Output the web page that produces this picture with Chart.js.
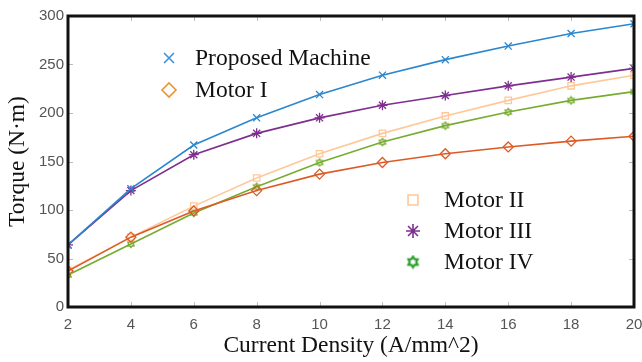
<!DOCTYPE html>
<html>
<head>
<meta charset="utf-8">
<script src="https://cdn.jsdelivr.net/npm/chart.js@4"></script>
<style>
  html, body { margin: 0; padding: 0; background: #fff; }
  #wrap { width: 642px; height: 362px; position: relative; }
</style>
</head>
<body>
<div id="wrap"><canvas id="torqueChart"></canvas></div>
<script>
// current density values (A/mm^2)
const density = [2, 4, 6, 8, 10, 12, 14, 16, 18, 20];

// torque (N.m)
const proposed = [64, 122, 167, 195, 219, 239, 255, 269, 282, 292];
const motorI   = [37, 72, 99, 120, 137, 149, 158, 165, 171, 176];
const motorII  = [38, 72, 104, 133, 158, 179, 197, 213, 228, 239];
const motorIII = [64, 120, 157, 179, 195, 208, 218, 228, 237, 246];
const motorIV  = [33, 65, 97, 124, 149, 170, 187, 201, 213, 222];

const xTicks = [2, 4, 6, 8, 10, 12, 14, 16, 18, 20];
const yTicks = [0, 50, 100, 150, 200, 250, 300];

// little hexagram marker, chart.js has no such point style
function hexagram(size, color, lw) {
  const c = document.createElement('canvas');
  c.width = size; c.height = size;
  const g = c.getContext('2d');
  const r = size / 2 - lw;
  g.strokeStyle = color;
  g.lineWidth = lw;
  g.beginPath();
  for (let i = 0; i < 12; i++) {
    const a = -Math.PI / 2 + i * Math.PI / 6;
    const rr = i % 2 === 0 ? r : r * 0.62;
    const px = size / 2 + rr * Math.cos(a), py = size / 2 + rr * Math.sin(a);
    if (i === 0) g.moveTo(px, py); else g.lineTo(px, py);
  }
  g.closePath();
  g.stroke();
  return c;
}

function series(label, values, color, style, legendColor, radius) {
  return {
    label: label,
    data: values.map((v, i) => ({ x: density[i], y: v })),
    borderColor: color,
    backgroundColor: 'rgba(0,0,0,0)',
    pointBorderColor: color,
    pointBackgroundColor: 'rgba(0,0,0,0)',
    pointStyle: style,
    pointRadius: radius || 4.5,
    pointBorderWidth: 1.3,
    borderWidth: 1.6,
    legendColor: legendColor || color
  };
}

// frame + inward ticks like the matlab box
const framePlugin = {
  id: 'frame',
  afterDraw(ch) {
    const { ctx, chartArea: a, scales } = ch;
    ctx.save();
    ctx.strokeStyle = '#bbb';
    ctx.lineWidth = 1;
    ctx.beginPath();
    xTicks.forEach(t => {
      const px = Math.round(scales.x.getPixelForValue(t)) + 0.5;
      ctx.moveTo(px, a.bottom); ctx.lineTo(px, a.bottom - 5);
      ctx.moveTo(px, a.top); ctx.lineTo(px, a.top + 5);
    });
    yTicks.forEach(t => {
      const py = Math.round(scales.y.getPixelForValue(t)) + 0.5;
      ctx.moveTo(a.left, py); ctx.lineTo(a.left + 5, py);
      ctx.moveTo(a.right, py); ctx.lineTo(a.right - 5, py);
    });
    ctx.stroke();
    ctx.strokeStyle = '#111';
    ctx.lineWidth = 3;
    ctx.strokeRect(a.left, a.top, a.right - a.left, a.bottom - a.top);
    ctx.restore();
  }
};

// two legend groups placed inside the plot
const legendGroups = [
  { items: [0, 1], x: 169, y: 58, textX: 195, gap: 32 },
  { items: [2, 3, 4], x: 413, y: 200, textX: 444, gap: 31 }
];

const legendPlugin = {
  id: 'splitLegend',
  afterDraw(ch) {
    const ctx = ch.ctx;
    ctx.save();
    ctx.font = '23.5px "Liberation Serif", "Times New Roman", serif';
    ctx.textBaseline = 'middle';
    legendGroups.forEach(gr => {
      gr.items.forEach((idx, k) => {
        const ds = ch.data.datasets[idx];
        const y = gr.y + k * gr.gap;
        ctx.strokeStyle = ds.legendColor;
        ctx.fillStyle = 'rgba(0,0,0,0)';
        ctx.lineWidth = 1.6;
        Chart.helpers.drawPoint(ctx, { pointStyle: ds.legendStyle, radius: 7, rotation: 0, borderWidth: 1.6 }, gr.x, y);
        ctx.fillStyle = '#111';
        ctx.fillText(ds.label, gr.textX, y + 1);
      });
    });
    ctx.restore();
  }
};

const datasets = [
  series('Proposed Machine', proposed, '#2a87cf', 'crossRot', '#3a92d8', 5),
  series('Motor I', motorI, '#dd5a26', 'rectRot', '#ec9433', 5),
  series('Motor II', motorII, '#ffc898', 'rect', '#ffc898', 4.5),
  series('Motor III', motorIII, '#7e2f8e', 'star', '#7e2f8e', 5),
  series('Motor IV', motorIV, '#77ac30', hexagram(10, '#77ac30', 1.4), '#2ca02c', 5)
];
datasets[0].legendStyle = 'crossRot';
datasets[1].legendStyle = 'rectRot';
datasets[2].legendStyle = 'rect';
datasets[3].legendStyle = 'star';
datasets[4].legendStyle = hexagram(15, '#2ca02c', 2.2);

const tickFont = { family: '"Liberation Sans", Arial, sans-serif', size: 15 };
const titleFont = { family: '"Liberation Serif", "Times New Roman", serif', size: 23.5 };

new Chart(document.getElementById('torqueChart'), {
  type: 'line',
  data: { datasets: datasets },
  options: {
    responsive: true,
    maintainAspectRatio: false,
    animation: false,
    layout: { padding: { left: 0, top: 16, right: 8, bottom: 0 } },
    plugins: { legend: { display: false }, tooltip: { enabled: false } },
    scales: {
      x: {
        type: 'linear',
        min: 2, max: 20,
        afterBuildTicks: s => { s.ticks = xTicks.map(v => ({ value: v })); },
        afterFit: s => { s.height = 55; s.paddingRight = 0; s.paddingLeft = 0; },
        grid: { display: false, drawTicks: false },
        border: { display: false },
        ticks: { color: '#555', font: tickFont, padding: 9 },
        title: { display: true, text: 'Current Density (A/mm^2)', color: '#111', font: titleFont, padding: { top: 0, bottom: 2 } }
      },
      y: {
        min: 0, max: 300,
        afterBuildTicks: s => { s.ticks = yTicks.map(v => ({ value: v })); },
        afterFit: s => { s.width = 68; },
        grid: { display: false, drawTicks: false },
        border: { display: false },
        ticks: { color: '#555', font: tickFont, padding: 4 },
        title: { display: true, text: 'Torque (N\u00b7m)', color: '#111', font: titleFont, padding: { top: 4, bottom: 0 } }
      }
    }
  },
  plugins: [framePlugin, legendPlugin]
});
</script>
</body>
</html>
